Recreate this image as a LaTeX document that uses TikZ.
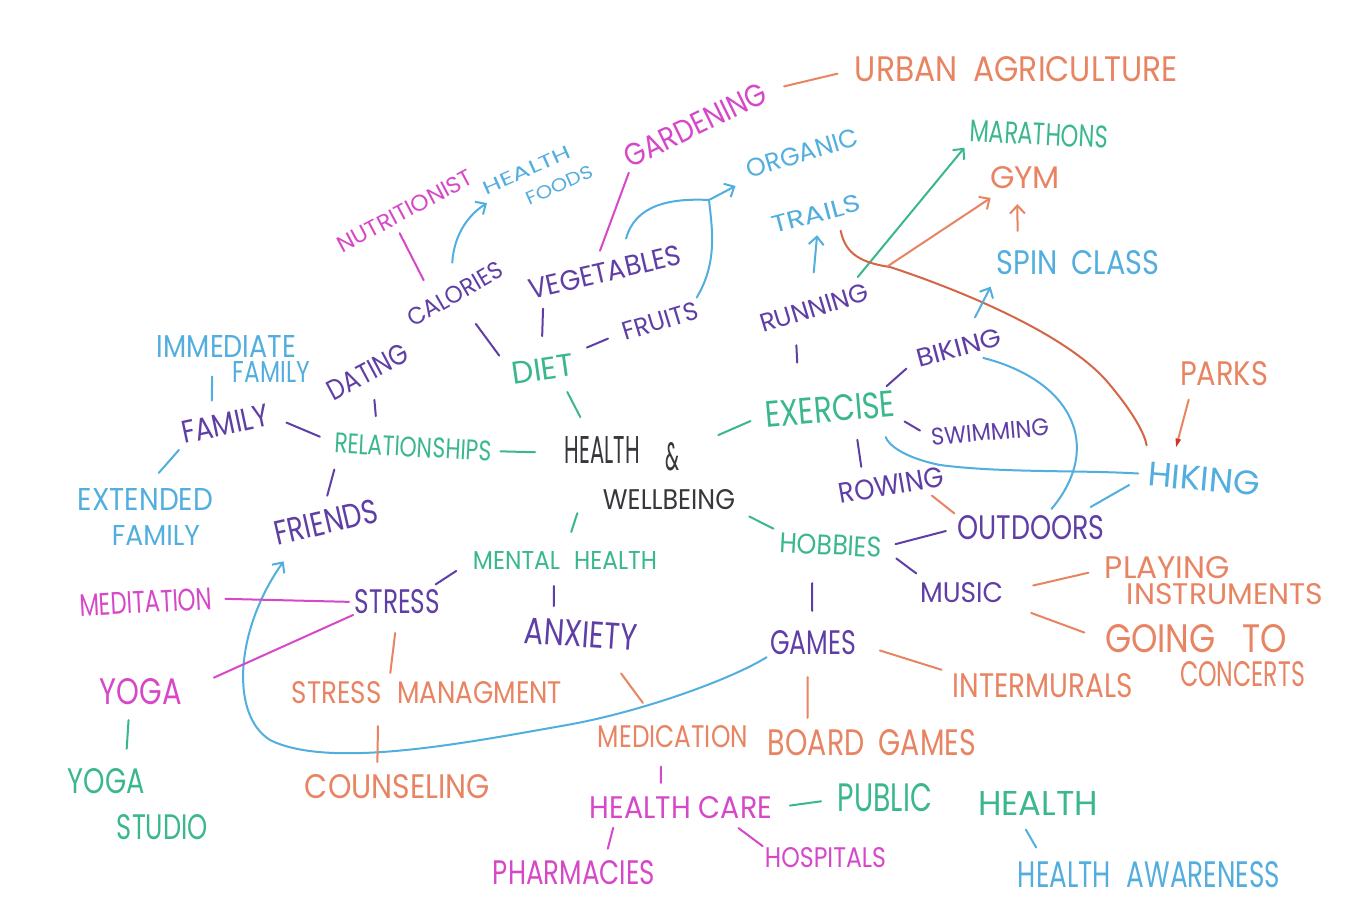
\documentclass[tikz,border=0pt]{standalone}
\usepackage{fontspec}
\usepackage{graphicx}
\newfontfamily\handfont{Poppins}
\usetikzlibrary{calc,arrows.meta}
\newcommand{\hw}[3]{\resizebox{#1pt}{#2pt}{\handfont #3}}
\newcommand{\LL}[4]{\vbox{\offinterlineskip\hbox{#1}\kern#2pt\hbox{\kern#3pt#4}}}
\definecolor{cPu}{RGB}{95,62,165}
\definecolor{cTe}{RGB}{58,184,140}
\definecolor{cBl}{RGB}{82,174,222}
\definecolor{cMa}{RGB}{214,72,200}
\definecolor{cOr}{RGB}{232,132,98}
\definecolor{cDk}{RGB}{55,55,60}
\definecolor{cRust}{RGB}{212,102,72}
\definecolor{cTip}{RGB}{210,50,40}
\begin{document}
\begin{tikzpicture}[x=1pt,y=-1pt,
 lab/.style={inner sep=0pt, outer sep=0pt},
 ln/.style={line width=2pt, line cap=round},
 arr/.style={-{Straight Barb[length=8pt,width=15pt]}}]
\fill[white] (0,0) rectangle (1345,915);
\useasboundingbox (0,0) rectangle (1345,915);
% ---------- nodes ----------
\node[lab,cOr] (urban) at (1016.5,69.5) {\hw{323}{25}{URBAN\hspace{0.5em}AGRICULTURE}};
\node[lab,cMa,rotate=26] (gardening) at (695,125) {\hw{155}{22}{GARDENING}};
\node[lab,cMa,rotate=28] (nutritionist) at (405,211) {\hw{150}{16}{NUTRITIONIST}};
\node[lab,cBl,rotate=24] (healthfoods) at (538,180) {\LL{\hw{94}{13}{HEALTH}}{14}{35}{\hw{71}{13}{FOODS}}};
\node[lab,cBl,rotate=17] (organic) at (802,153) {\hw{115}{18}{ORGANIC}};
\node[lab,cTe,rotate=-3] (marathons) at (1039,134) {\hw{138}{22}{MARATHONS}};
\node[lab,cOr] (gym) at (1025,178) {\hw{70}{22}{GYM}};
\node[lab,cBl,rotate=15] (trails) at (816,214) {\hw{91}{17}{TRAILS}};
\node[lab,cBl] (spin) at (1078,263) {\hw{163}{24}{SPIN\hspace{0.5em}CLASS}};
\node[lab,cPu,rotate=30] (calories) at (455,294) {\hw{106}{17}{CALORIES}};
\node[lab,cPu,rotate=13] (vegetables) at (605,272) {\hw{156}{20}{VEGETABLES}};
\node[lab,cPu,rotate=17] (fruits) at (660,321) {\hw{78}{18}{FRUITS}};
\node[lab,cPu,rotate=17] (running) at (814,308) {\hw{112}{18}{RUNNING}};
\node[lab,cBl] (immediate) at (233.5,359) {\LL{\hw{139}{22}{IMMEDIATE}}{4}{76}{\hw{77}{21}{FAMILY}}};
\node[lab,cPu,rotate=28] (dating) at (368,372) {\hw{88}{20}{DATING}};
\node[lab,cTe,rotate=8] (diet) at (543,369) {\hw{62}{22}{DIET}};
\node[lab,cPu,rotate=15] (biking) at (959,348) {\hw{87}{18}{BIKING}};
\node[lab,cOr] (parks) at (1224,374) {\hw{88}{24}{PARKS}};
\node[lab,cPu,rotate=12] (family) at (225,424) {\hw{88}{22}{FAMILY}};
\node[lab,cTe,rotate=-3] (relationships) at (413,447) {\hw{157}{20}{RELATIONSHIPS}};
\node[lab,cDk] (health) at (650,473) {\LL{\hw{75}{27}{HEALTH}\kern26pt\raisebox{-7pt}{\hw{14}{28}{\&}}}{18}{38}{\hw{132}{20}{WELLBEING}}};
\node[lab,cTe,rotate=5] (exercise) at (830,409) {\hw{130}{26}{EXERCISE}};
\node[lab,cPu,rotate=5] (swimming) at (990,432) {\hw{118}{17}{SWIMMING}};
\node[lab,cBl,rotate=-5] (hiking) at (1204,479) {\hw{112}{24}{HIKING}};
\node[lab,cPu,rotate=10] (rowing) at (891,485) {\hw{106}{20}{ROWING}};
\node[lab,cBl] (extended) at (145.5,516.5) {\LL{\hw{135}{22}{EXTENDED}}{15}{34}{\hw{88}{20}{FAMILY}}};
\node[lab,cPu,rotate=13] (friends) at (326,522) {\hw{105}{24}{FRIENDS}};
\node[lab,cPu] (outdoors) at (1031,528) {\hw{147}{24}{OUTDOORS}};
\node[lab,cTe,rotate=-3] (hobbies) at (831,545) {\hw{102}{20}{HOBBIES}};
\node[lab,cTe] (mental) at (565,560) {\hw{184}{18}{MENTAL\hspace{0.6em}HEALTH}};
\node[lab,cOr] (playing) at (1214,581) {\LL{\hw{125}{22}{PLAYING}}{5}{22}{\hw{196}{21}{INSTRUMENTS}}};
\node[lab,cPu] (music) at (961.5,592.5) {\hw{83}{20}{MUSIC}};
\node[lab,cMa,rotate=3] (meditation) at (146,602) {\hw{133}{22}{MEDITATION}};
\node[lab,cPu] (stress) at (397.5,602) {\hw{85}{24}{STRESS}};
\node[lab,cPu,rotate=-4] (anxiety) at (581,634) {\hw{113}{26}{ANXIETY}};
\node[lab,cPu] (games) at (813,643) {\hw{86}{24}{GAMES}};
\node[lab,cOr] (going) at (1205,655.5) {\LL{\hw{182}{28}{GOING\hspace{0.8em}TO}}{8}{75}{\hw{125}{25}{CONCERTS}}};
\node[lab,cMa] (yoga) at (141,692) {\hw{82}{26}{YOGA}};
\node[lab,cOr] (sm) at (427,693) {\hw{270}{22}{STRESS\hspace{0.6em}MANAGMENT}};
\node[lab,cOr] (intermurals) at (1043,685.5) {\hw{180}{24}{INTERMURALS}};
\node[lab,cOr] (medication) at (673,736.5) {\hw{150}{22}{MEDICATION}};
\node[lab,cOr] (boardgames) at (872,743) {\hw{208}{26}{BOARD\hspace{0.5em}GAMES}};
\node[lab,cTe] (yogastudio) at (138,804) {\LL{\hw{77}{25}{YOGA}}{20}{49}{\hw{91}{25}{STUDIO}}};
\node[lab,cOr] (counseling) at (397.5,787) {\hw{185}{24}{COUNSELING}};
\node[lab,cMa] (hc) at (681,808) {\hw{182}{22}{HEALTH CARE}};
\node[lab,cTe] (public) at (968,799) {\raisebox{4pt}{\hw{94}{28}{PUBLIC}}\kern46pt\hw{120}{24}{HEALTH}};
\node[lab,cMa] (pharmacies) at (574,872.5) {\hw{162}{24}{PHARMACIES}};
\node[lab,cMa] (hospitals) at (825.5,858) {\hw{121}{20}{HOSPITALS}};
\node[lab,cBl] (awareness) at (1149,874.5) {\hw{262}{26}{HEALTH\hspace{0.6em}AWARENESS}};
% ---------- connectors ----------
\draw[ln,cOr,shorten <=20pt,shorten >=18pt] (gardening.east) -- (urban.west);
\draw[ln,cMa,shorten <=9pt,shorten >=19pt] ($(nutritionist.south west)!0.4!(nutritionist.south east)$) -- ($(calories.north west)!0.3!(calories.north east)$);
\draw[ln,cBl,arr,shorten <=24pt,shorten >=3pt] (calories.north) .. controls (454,235) and (468,215) .. (healthfoods.west);
\draw[ln,cMa,shorten <=4pt,shorten >=14pt] (gardening.south west) -- ($(vegetables.north west)!0.45!(vegetables.north east)$);
\coordinate (j) at (709,200);
\draw[ln,cBl,arr,shorten <=20pt,shorten >=16pt] ($(vegetables.north west)!0.62!(vegetables.north east)$) .. controls (635,205) and (670,198) .. (j) -- (organic.south west);
\draw[ln,cBl,shorten <=4pt] (fruits.north east) .. controls (718,262) and (712,228) .. (j);
\draw[ln,cPu,shorten <=28pt,shorten >=22pt] (calories.south) -- (diet.west);
\draw[ln,cPu,shorten <=12pt,shorten >=22pt] ($(vegetables.south west)!0.08!(vegetables.south east)$) -- (diet.north);
\draw[ln,cPu,shorten <=16pt,shorten >=16pt] (fruits.west) -- (diet.north east);
\draw[ln,cTe,shorten <=16pt,shorten >=22pt] ($(diet.south)!0.5!(diet.south east)$) -- ($(health.north west)!0.15!(health.north east)$);
\draw[ln,cPu,shorten <=19pt,shorten >=19pt] (dating.south) -- ($(relationships.north west)!0.27!(relationships.north east)$);
\draw[ln,cBl,shorten <=-6pt,shorten >=15pt] ($(immediate.south west)!0.36!(immediate.south east)$) -- ($(family.north west)!0.37!(family.north east)$);
\draw[ln,cPu,shorten <=20pt,shorten >=16pt] (family.east) -- (relationships.west);
\draw[ln,cTe,shorten <=9pt,shorten >=30pt] (relationships.east) -- ($(health.north west)!0.225!(health.south west)$);
\draw[ln,cBl,shorten <=8pt,shorten >=20pt] (family.south west) -- (extended.north);
\draw[ln,cPu,shorten <=17pt,shorten >=15pt] ($(relationships.south west)!0.03!(relationships.south east)$) -- (friends.north);
\draw[ln,cTe,shorten <=4pt,shorten >=16pt] ($(health.north west)!0.88!(health.north east)$) -- (exercise.west);
\draw[ln,cPu,shorten <=22pt,shorten >=36pt] ($(running.south west)!0.3!(running.south east)$) -- ($(exercise.north west)!0.27!(exercise.north east)$);
\draw[ln,cBl,arr,shorten <=27pt,shorten >=13pt] (running.north) -- (trails.south);
\draw[ln,cTe,arr,shorten <=14pt,shorten >=8pt] ($(running.north west)!0.85!(running.north east)$) -- (marathons.south west);
\draw[ln,cRust,shorten <=14pt,shorten >=17pt] ($(trails.south west)!0.72!(trails.south east)$) .. controls (845,250) and (855,262) .. (890,267) .. controls (960,290) and (1070,335) .. (1110,385) .. controls (1135,415) and (1145,435) .. (hiking.north west);
\coordinate (g0) at (888,266);
\draw[ln,cOr,arr,shorten >=16pt] (g0) -- ($(gym.south west)!0.2!(gym.south east)$);
\draw[ln,cOr,arr,shorten <=20pt,shorten >=15pt] ($(spin.north west)!0.13!(spin.north east)$) -- ($(gym.south west)!0.39!(gym.south east)$);
\draw[ln,cBl,arr,shorten <=22pt,shorten >=13pt] ($(biking.north west)!0.6!(biking.north east)$) -- (spin.south west);
\draw[ln,cPu,shorten <=8pt,shorten >=14pt] ($(exercise.north west)!0.9!(exercise.north east)$) -- (biking.west);
\draw[ln,cPu,shorten <=10pt,shorten >=13pt] (exercise.south east) -- (swimming.west);
\draw[ln,cPu,shorten <=20pt,shorten >=13pt] ($(exercise.south west)!0.68!(exercise.south east)$) -- ($(rowing.north west)!0.25!(rowing.north east)$);
\draw[ln,cOr,-{Triangle[length=9pt,width=5pt,color=cTip]},shorten <=14pt,shorten >=17pt] ($(parks.south west)!0.14!(parks.south east)$) -- ($(hiking.north west)!0.2!(hiking.north east)$);
\draw[ln,cBl,shorten <=20pt,shorten >=10pt] ($(exercise.south west)!0.88!(exercise.south east)$) .. controls (888,445) and (905,458) .. (940,465) .. controls (1000,473) and (1080,470) .. (hiking.west);
\draw[ln,cBl,shorten <=14pt,shorten >=9pt] ($(biking.south west)!0.6!(biking.south east)$) .. controls (1070,380) and (1105,445) .. ($(outdoors.north west)!0.6!(outdoors.north east)$);
\draw[ln,cBl,shorten <=18pt,shorten >=22pt] ($(outdoors.north west)!0.8!(outdoors.north east)$) -- (hiking.west);
\draw[ln,cOr,shorten <=10pt,shorten >=4pt] ($(rowing.south west)!0.8!(rowing.south east)$) -- (outdoors.north west);
\draw[ln,cTe,shorten <=16pt,shorten >=8pt] (health.south east) -- (hobbies.north west);
\draw[ln,cPu,shorten <=14pt,shorten >=12pt] (hobbies.east) -- (outdoors.west);
\draw[ln,cPu,shorten <=18pt,shorten >=15pt] (hobbies.east) -- ($(music.north west)!0.1!(music.north east)$);
\draw[ln,cPu,shorten <=29pt,shorten >=20pt] ($(hobbies.south west)!0.32!(hobbies.south east)$) -- ($(games.north west)!0.49!(games.north east)$);
\draw[ln,cOr,shorten <=31pt,shorten >=17pt] (music.east) -- ($(playing.north west)!0.25!(playing.south west)$);
\draw[ln,cOr,shorten <=30pt,shorten >=22pt] (music.south east) -- ($(going.north west)!0.25!(going.south west)$);
\draw[ln,cOr,shorten <=25pt,shorten >=12pt] (games.east) -- (intermurals.north west);
\draw[ln,cOr,shorten <=22pt,shorten >=12pt] ($(games.south west)!0.44!(games.south east)$) -- ($(boardgames.north west)!0.19!(boardgames.north east)$);
\draw[ln,cBl,arr,shorten <=4pt,shorten >=25pt] (games.south west) .. controls (730,680) and (640,712) .. (567,725) .. controls (470,742) and (330,770) .. (270,740) .. controls (230,715) and (235,630) .. ($(friends.south west)!0.2!(friends.south east)$);
\draw[ln,cTe,shorten <=4pt,shorten >=20pt] ($(health.south west)!0.08!(health.south east)$) -- ($(mental.north west)!0.5!(mental.north east)$);
\draw[ln,cPu,shorten <=20pt,shorten >=10pt] (mental.west) -- ($(stress.north west)!0.85!(stress.north east)$);
\draw[ln,cPu,shorten <=17pt,shorten >=13pt] ($(mental.south west)!0.44!(mental.south east)$) -- ($(anxiety.north west)!0.25!(anxiety.north east)$);
\draw[ln,cMa,shorten <=13pt,shorten >=6pt] (meditation.east) -- (stress.west);
\draw[ln,cMa,shorten <=35pt,shorten >=2pt] (yoga.east) -- (stress.south west);
\draw[ln,cOr,shorten <=19pt,shorten >=9pt] (stress.south) -- ($(sm.north west)!0.36!(sm.north east)$);
\draw[ln,cOr,shorten <=22pt,shorten >=13pt] ($(sm.south west)!0.32!(sm.south east)$) -- ($(counseling.north west)!0.39!(counseling.north east)$);
\draw[ln,cOr,shorten <=31pt,shorten >=28pt] ($(anxiety.south west)!0.7!(anxiety.south east)$) -- ($(medication.north west)!0.41!(medication.north east)$);
\draw[ln,cTe,shorten <=15pt,shorten >=20pt] ($(yoga.south west)!0.36!(yoga.south east)$) -- ($(yogastudio.north west)!0.41!(yogastudio.north east)$);
\draw[ln,cMa,shorten <=19pt,shorten >=14pt] ($(medication.south west)!0.42!(medication.south east)$) -- ($(hc.north west)!0.39!(hc.north east)$);
\draw[ln,cTe,shorten <=18pt,shorten >=17pt] (hc.east) -- (public.west);
\draw[ln,cMa,shorten <=9pt,shorten >=12pt] ($(hc.south west)!0.14!(hc.south east)$) -- ($(pharmacies.north west)!0.69!(pharmacies.north east)$);
\draw[ln,cMa,shorten <=15pt,shorten >=3pt] ($(hc.south west)!0.75!(hc.south east)$) -- (hospitals.north west);
\draw[ln,cBl,shorten <=17pt,shorten >=16pt] ($(public.south west)!0.69!(public.south east)$) -- ($(awareness.north west)!0.1!(awareness.north east)$);
\end{tikzpicture}
\end{document}
